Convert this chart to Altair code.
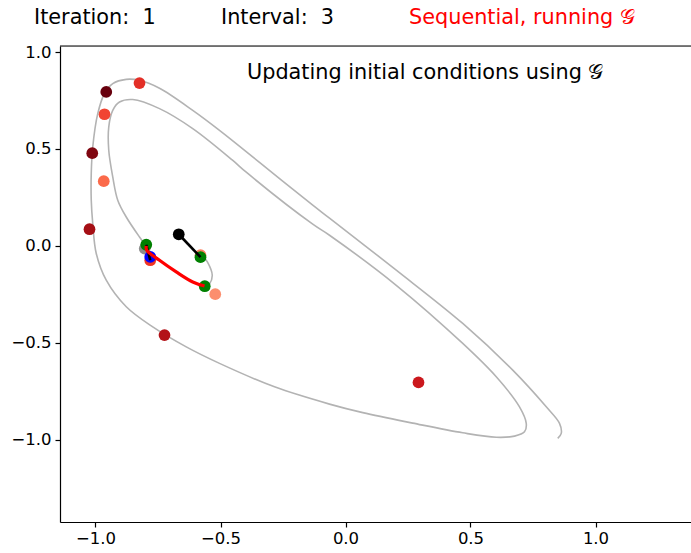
import altair as alt
import pandas as pd

# ---- data ----
curve_x = [0.849, 0.863, 0.856, 0.803, 0.669, 0.469, 0.203, -0.064, -0.131, -0.344,
           -0.504, -0.611, -0.744, -0.824, -0.877, -0.931, -0.964, -0.991, -1.011, -1.017,
           -1.017, -1.011, -0.997, -0.957, -0.877, -0.771, -0.637, -0.504, -0.284, -0.064,
           0.069, 0.269, 0.469, 0.603, 0.676, 0.716, 0.723, 0.696, 0.603, 0.469,
           0.203, -0.064, -0.131, -0.397, -0.452, -0.611, -0.744, -0.851, -0.904, -0.931,
           -0.947, -0.947, -0.931, -0.911, -0.877, -0.824, -0.800]
curve_y = [-0.993, -0.967, -0.915, -0.830, -0.641, -0.400, -0.125, 0.143, 0.210, 0.431,
           0.596, 0.699, 0.813, 0.854, 0.859, 0.837, 0.786, 0.682, 0.510, 0.373,
           0.236, 0.115, -0.039, -0.177, -0.314, -0.418, -0.521, -0.606, -0.727, -0.816,
           -0.860, -0.914, -0.964, -0.987, -0.981, -0.959, -0.915, -0.830, -0.675, -0.503,
           -0.203, 0.055, 0.112, 0.380, 0.442, 0.605, 0.708, 0.755, 0.742, 0.699,
           0.613, 0.493, 0.356, 0.236, 0.149, 0.046, 0.004]

seg_x = [-0.580, -0.552, -0.533, -0.544, -0.563]
seg_y = [-0.037, -0.084, -0.151, -0.197, -0.213]

pts_x = [-0.957, -0.824, -0.964, -1.013, -0.967, -1.024, -0.724, 0.292, -0.580, -0.781, -0.521]
pts_y = [0.794, 0.840, 0.679, 0.478, 0.334, 0.086, -0.460, -0.704, -0.048, -0.074, -0.249]
pts_c = ["#67000d", "#e32f27", "#f14432", "#7f0610", "#fb6a4a", "#a50f15", "#b31218",
         "#cb181d", "#fc8060", "#f03523", "#fc8e6e"]

grey_pt_x = [-0.803]
grey_pt_y = [-0.014]

green_x = [-0.797, -0.580, -0.563]
green_y = [0.006, -0.058, -0.208]

blue_x = [-0.781]
blue_y = [-0.057]

black_pt_x = [-0.667]
black_pt_y = [0.060]

black_line1_x = [-0.667, -0.580]
black_line1_y = [0.060, -0.058]
black_line2_x = [-0.797, -0.781]
black_line2_y = [0.006, -0.074]

red_line_x = [-0.797, -0.795, -0.744, -0.677, -0.611, -0.564]
red_line_y = [0.000, -0.022, -0.074, -0.134, -0.186, -0.207]

x_ticks = [-1.0, -0.5, 0.0, 0.5, 1.0]
y_ticks = [-1.0, -0.5, 0.0, 0.5, 1.0]

NB = "\u00a0"
header_texts = ["Iteration:" + NB + NB + "1", "Interval:" + NB + NB + "3",
                "Sequential, running \U0001D4A2"]
inner_text = "Updating initial conditions using \U0001D4A2"

# ---- chart ----
W, H = 631, 476
FONT = "DejaVu Sans"
PT = 138

xs = alt.Scale(domain=[-1.142, 1.382], nice=False, zero=False)
ys = alt.Scale(domain=[-1.424, 1.031], nice=False, zero=False)

xaxis = alt.Axis(values=x_ticks, format=".1f", labelExpr="replace(datum.label, '-', '\u2212')",
                 title=None, grid=False, domainColor="black", tickColor="black",
                 labelColor="black", labelFontSize=16.5, labelFont=FONT, tickSize=5,
                 labelPadding=3, domainWidth=1.2, tickWidth=1.2)
yaxis = alt.Axis(values=y_ticks, format=".1f", labelExpr="replace(datum.label, '-', '\u2212')",
                 title=None, grid=False, domainColor="black", tickColor="black",
                 labelColor="black", labelFontSize=16.5, labelFont=FONT, tickSize=5,
                 labelPadding=4, domainWidth=1.2, tickWidth=1.2)

X = lambda: alt.X("x:Q", scale=xs, axis=xaxis)
Y = lambda: alt.Y("y:Q", scale=ys, axis=yaxis)


def line_df(xv, yv):
    return pd.DataFrame({"x": xv, "y": yv, "i": list(range(len(xv)))})


def line_layer(xv, yv, color, width, interp="linear"):
    return alt.Chart(line_df(xv, yv)).mark_line(
        color=color, strokeWidth=width, clip=True, interpolate=interp).encode(
        x=X(), y=Y(), order="i:O",
    )


def point_layer(xv, yv, color, size=PT):
    return alt.Chart(pd.DataFrame({"x": xv, "y": yv})).mark_circle(
        color=color, size=size, opacity=1).encode(x=X(), y=Y())


curve = line_layer(curve_x, curve_y, "#b3b3b3", 1.6, "catmull-rom")
seg = line_layer(seg_x, seg_y, "#b3b3b3", 1.6, "catmull-rom")

reds = alt.Chart(pd.DataFrame({"x": pts_x, "y": pts_y, "c": pts_c})).mark_circle(
    size=PT, opacity=1).encode(
    x=X(), y=Y(),
    color=alt.Color("c:N", scale=None),
)

grey_pt = point_layer(grey_pt_x, grey_pt_y, "#8c8c8c")
greens = point_layer(green_x, green_y, "#008000")
blue = point_layer(blue_x, blue_y, "#0000ff")
black_pt = point_layer(black_pt_x, black_pt_y, "#000000")
bl1 = line_layer(black_line1_x, black_line1_y, "#000000", 2.6)
bl2 = line_layer(black_line2_x, black_line2_y, "#000000", 2.6)
red_line = line_layer(red_line_x, red_line_y, "#ff0000", 3.2, "catmull-rom")

top_border = alt.Chart(pd.DataFrame({"a": [0]})).mark_rule(color="black", strokeWidth=1.2).encode(
    x=alt.value(0), x2=alt.value(W), y=alt.value(0)
)

hdr_df = pd.DataFrame({
    "t": header_texts,
    "px": [-26, 161, 349],
    "c": ["#000000", "#000000", "#ff0000"],
})
headers = alt.Chart(hdr_df).mark_text(
    align="left", baseline="alphabetic", font=FONT, fontSize=20.8).encode(
    text="t:N",
    x=alt.X("px:Q", scale=None),
    y=alt.value(-22),
    color=alt.Color("c:N", scale=None),
)

inner = alt.Chart(pd.DataFrame({"t": [inner_text]})).mark_text(
    align="left", baseline="alphabetic", font=FONT, fontSize=20.8, color="black").encode(
    text="t:N",
    x=alt.value(187),
    y=alt.value(33),
)

chart = alt.layer(
    curve, seg, grey_pt, reds, greens, blue, bl2, black_pt, bl1, red_line,
    top_border, headers, inner,
).properties(
    width=W, height=H,
    autosize=alt.AutoSizeParams(type="none"),
    padding={"left": 60, "top": 46, "right": 0, "bottom": 31},
).configure_view(stroke=None).configure(background="white")

chart.save("out.html", embed_options={"renderer": "svg", "actions": False})
